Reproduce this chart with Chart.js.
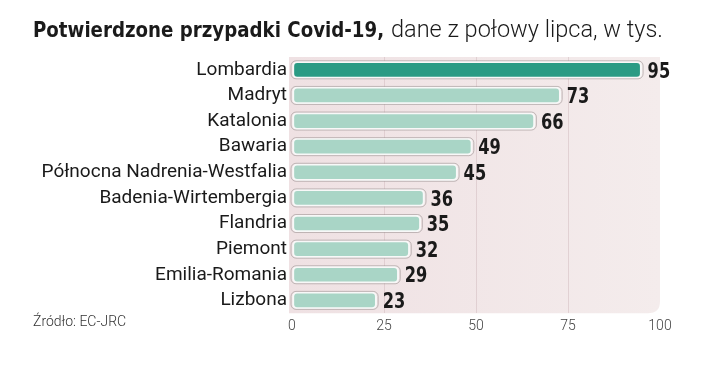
<!DOCTYPE html>
<html>
<head>
<meta charset="utf-8">
<script src="https://cdn.jsdelivr.net/npm/chart.js@4.4.1/dist/chart.umd.min.js"></script>
<style>
  html, body { margin: 0; padding: 0; background: #fff; }
  #wrap { position: relative; width: 720px; height: 369px; }
  .t { position: absolute; top: 17px; font-size: 22px; color: #1a1a1a; white-space: nowrap; }
  #tBold { left: 33px; font-family: "DejaVu Sans Condensed", sans-serif; font-weight: bold; transform: scaleX(0.92); transform-origin: left; }
  #tLight { left: 391px; font-family: Roboto, sans-serif; font-weight: 300; font-size: 23.5px; top: 15px; }
  #source { position: absolute; left: 33px; top: 313px; font-family: Roboto, sans-serif; font-weight: 300; font-size: 14px; color: #333; }
  canvas { position: absolute; left: 0; top: 0; }
</style>
</head>
<body>
<div id="wrap">
  <canvas id="chart" width="720" height="369"></canvas>
  <div class="t" id="tBold">Potwierdzone przypadki Covid-19,</div>
  <div class="t" id="tLight">dane z połowy lipca, w tys.</div>
  <div id="source">Źródło: EC-JRC</div>
</div>
<script>
const regions = ["Lombardia", "Madryt", "Katalonia", "Bawaria", "Północna Nadrenia-Westfalia",
    "Badenia-Wirtembergia", "Flandria", "Piemont", "Emilia-Romania", "Lizbona"];
const cases = [95, 73, 66, 49, 45, 36, 35, 32, 29, 23];
const xTicks = [0, 25, 50, 75, 100];

const darkTeal = '#2a9b84';
const lightTeal = '#a9d5c6';

// pink panel behind the bars
const panelPlugin = {
    id: 'panel',
    beforeDraw(chart) {
        const { ctx, chartArea: a } = chart;
        const r = 12;
        const left = a.left - 3;
        ctx.save();
        const g = ctx.createLinearGradient(left, 0, a.right, 0);
        g.addColorStop(0, '#efe1e3');
        g.addColorStop(1, '#f4ecec');
        ctx.fillStyle = g;
        ctx.beginPath();
        ctx.moveTo(left, a.top);
        ctx.lineTo(a.right, a.top);
        ctx.lineTo(a.right, a.bottom - r);
        ctx.quadraticCurveTo(a.right, a.bottom, a.right - r, a.bottom);
        ctx.lineTo(left, a.bottom);
        ctx.closePath();
        ctx.fill();
        ctx.restore();
    }
};

// thin grey outline around bars + value labels
const labelPlugin = {
    id: 'labels',
    afterDatasetsDraw(chart) {
        const { ctx } = chart;
        const meta = chart.getDatasetMeta(0);
        ctx.save();
        meta.data.forEach((bar, i) => {
            const h = bar.height;
            const x0 = bar.base - 2, y0 = bar.y - h / 2 - 1;
            const w = bar.x - bar.base + 3;
            ctx.strokeStyle = 'rgba(150,140,140,0.55)';
            ctx.lineWidth = 1;
            ctx.beginPath();
            ctx.roundRect(x0 + 0.5, y0 + 0.5, w, h + 1, 5);
            ctx.stroke();

            ctx.save();
            ctx.translate(bar.x + 6, bar.y + 2);
            ctx.scale(0.82, 1);
            ctx.fillStyle = '#1a1a1a';
            ctx.font = 'bold 22px "DejaVu Sans Condensed", sans-serif';
            ctx.textBaseline = 'middle';
            ctx.textAlign = 'left';
            ctx.fillText(cases[i], 0, 0);
            ctx.restore();
        });
        ctx.restore();
    }
};

new Chart(document.getElementById('chart'), {
    type: 'bar',
    data: {
        labels: regions,
        datasets: [{
            data: cases,
            backgroundColor: cases.map((v, i) => i === 0 ? darkTeal : lightTeal),
            borderColor: '#f8f8f8',
            borderWidth: 2,
            borderRadius: 5,
            borderSkipped: false,
            barThickness: 17
        }]
    },
    options: {
        indexAxis: 'y',
        responsive: false,
        animation: false,
        layout: { padding: { top: 57, right: 60, bottom: 29, left: 0 } },
        plugins: { legend: { display: false }, tooltip: { enabled: false } },
        scales: {
            x: {
                min: 0,
                max: 100,
                afterBuildTicks(axis) { axis.ticks = xTicks.map(v => ({ value: v })); },
                border: { display: false },
                grid: {
                    drawTicks: false,
                    color: ctx => (ctx.tick && (ctx.tick.value === 0 || ctx.tick.value === 100)) ? 'rgba(0,0,0,0)' : 'rgba(205,180,185,0.45)'
                },
                ticks: {
                    padding: 5,
                    color: '#444',
                    font: { family: 'Roboto', weight: 300, size: 14 }
                }
            },
            y: {
                afterFit(axis) { axis.width = 292; },
                border: { display: false },
                grid: { display: false, drawTicks: false },
                ticks: {
                    autoSkip: false,
                    padding: 5,
                    color: '#1a1a1a',
                    font: { family: 'Roboto', size: 19 }
                }
            }
        }
    },
    plugins: [panelPlugin, labelPlugin]
});
</script>
</body>
</html>
